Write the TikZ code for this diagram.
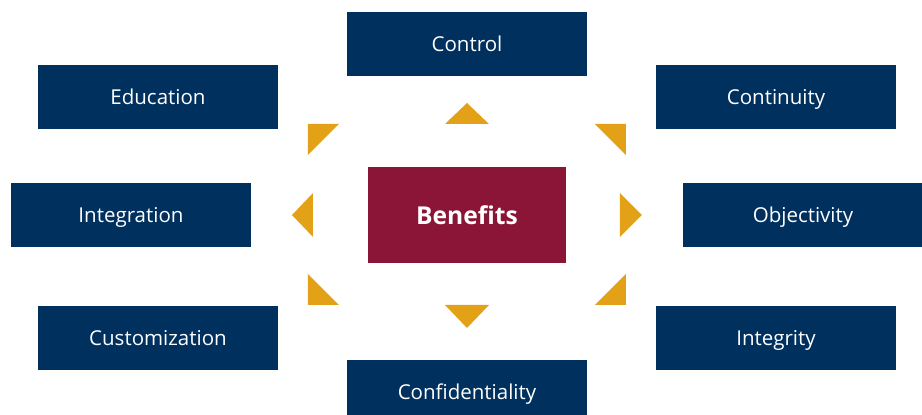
\documentclass[tikz,border=0pt]{standalone}
\usepackage{fontspec}
\setmainfont{Open Sans}
\usepackage{xcolor}
\usetikzlibrary{calc}

\definecolor{navy}{HTML}{00305E}
\definecolor{wine}{HTML}{8A1536}
\definecolor{gold}{HTML}{E3A118}

\begin{document}
\begin{tikzpicture}[x=1pt, y=1pt,
    item/.style={fill=navy, text=white, inner sep=0pt,
      minimum width=240pt, minimum height=64pt,
      text height=15pt, text depth=0pt,
      font=\fontsize{20.5}{24}\selectfont},
    core/.style={fill=wine, text=white, inner sep=0pt,
      minimum width=198pt, minimum height=96pt,
      text height=18.5pt, text depth=0pt,
      font=\fontsize{24.6}{29}\selectfont\bfseries},
    pointer/.style={fill=gold}]
  \clip (-467,-200) rectangle (455,215);

  \node[core] (ben) at (0,0) {Benefits};

  \node[item] (ctl) at ($(ben)+(0,171)$) {Control};
  \node[item] (con) at ($(ben)+(0,-177)$) {Confidentiality};
  \node[item] (edu) at ($(ben)+(-309,118)$) {Education};
  \node[item] (itg) at ($(ben)+(-336,0)$) {Integration};
  \node[item] (cus) at ($(ben)+(-309,-123)$) {Customization};
  \node[item] (cnt) at ($(ben)+(309,118)$) {Continuity};
  \node[item] (obj) at ($(ben)+(336,0)$) {Objectivity};
  \node[item] (ity) at ($(ben)+(309,-123)$) {Integrity};

  % straight pointers
  \fill[pointer] ($(ben)+(0,112)$) -- ($(ben)+(-22,91)$) -- ($(ben)+(22,91)$) -- cycle;
  \fill[pointer] ($(ben)+(0,-113)$) -- ($(ben)+(-22,-90)$) -- ($(ben)+(22,-90)$) -- cycle;
  \fill[pointer] ($(ben)+(-175,0)$) -- ($(ben)+(-154,22)$) -- ($(ben)+(-154,-22)$) -- cycle;
  \fill[pointer] ($(ben)+(175,0)$) -- ($(ben)+(153,22)$) -- ($(ben)+(153,-22)$) -- cycle;

  % corner pointers
  \foreach \sx/\sy/\dy in {-1/1/91, 1/1/91, -1/-1/90, 1/-1/90}
    \fill[pointer] ($(ben)+(\sx*159,\sy*\dy)$) -- ++(-\sx*31,0) -- ++(\sx*31,-\sy*31) -- cycle;
\end{tikzpicture}
\end{document}
